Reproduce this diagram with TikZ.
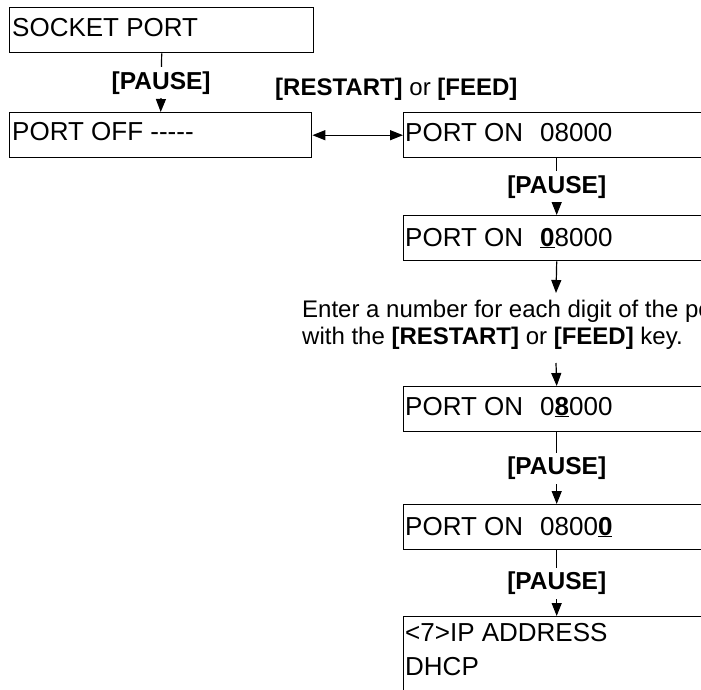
\documentclass[tikz,border=0pt]{standalone}
\usepackage{fontspec}
\setmainfont{Liberation Sans}
\usetikzlibrary{arrows.meta}
\newcommand\ulbf[1]{\underline{\textbf{#1}}}
\begin{document}
\begin{tikzpicture}[x=1pt,y=-1pt,
  box/.style={draw, line width=1.4pt, rectangle, inner sep=0pt, anchor=north west, minimum height=45pt},
  boxtext/.style={anchor=base west, inner sep=0pt, font=\fontsize{26}{30}\selectfont},
  plain/.style={anchor=base west, inner sep=0pt, font=\fontsize{24}{28}\selectfont},
  conn/.style={line width=1.2pt, -{Triangle[length=13pt,width=10pt]}},
  key/.style={fill=white, font=\fontsize{24.5}{28}\selectfont\bfseries, minimum height=31pt, inner xsep=1pt, inner ysep=0pt},
  ]
\useasboundingbox (0,0) rectangle (701,690);
\clip (0,0) rectangle (701,690);

% boxes
\node[box, minimum width=304pt] (sock) at (9,7) {};
\node[boxtext] (sockt) at (12,37) {SOCKET PORT};
\node[box, minimum width=302pt] (off) at (9,112) {};
\node[boxtext] (offt) at (12,141) {PORT OFF -{}-{}-{}-{}-};
\node[box, minimum width=306pt] (on1) at (403,112) {};
\node[boxtext] (on1t) at (405,142) {PORT ON\hspace{17pt}08000};
\node[box, minimum width=306pt] (on2) at (403,215) {};
\node[boxtext] (on2t) at (405,246) {PORT ON\hspace{17pt}\ulbf{0}8000};
\node[box, minimum width=306pt] (on3) at (403,386) {};
\node[boxtext] (on3t) at (405,415) {PORT ON\hspace{17pt}0\ulbf{8}000};
\node[box, minimum width=306pt] (on4) at (403,504) {};
\node[boxtext] (on4t) at (405,535) {PORT ON\hspace{17pt}0800\ulbf{0}};
\node[box, minimum width=306pt, minimum height=110pt] (ip) at (403,616) {};
\node[boxtext] (ipt1) at (405,641) {<7>IP ADDRESS};
\node[boxtext] (ipt2) at (405,675) {DHCP};

% texts
\node[plain] (rf) at (275,96) {\textbf{[RESTART]} or \textbf{[FEED]}};
\node[plain] (note1) at (302,317) {Enter a number for each digit of the port};
\node[plain] (note2) at (302,344) {with the \textbf{[RESTART]} or \textbf{[FEED]} key.};

% connectors
\draw[conn] (sock.south) -- node[key] (k1) {[PAUSE]} (off.north);
\draw[line width=1.2pt, {Triangle[length=13pt,width=10pt]}-{Triangle[length=13pt,width=10pt]}] (off.east) -- (on1.west);
\draw[conn] (on1.south) -- node[key] (k2) {[PAUSE]} (on2.north);
\coordinate (a1) at (556,293);
\draw[conn] (on2.south) -- (a1);
\coordinate (a2) at (556,363);
\draw[conn] (a2) -- (on3.north);
\draw[conn] (on3.south) -- node[key] (k3) {[PAUSE]} (on4.north);
\draw[conn] (on4.south) -- node[key] (k4) {[PAUSE]} (ip.north);
\end{tikzpicture}
\end{document}
